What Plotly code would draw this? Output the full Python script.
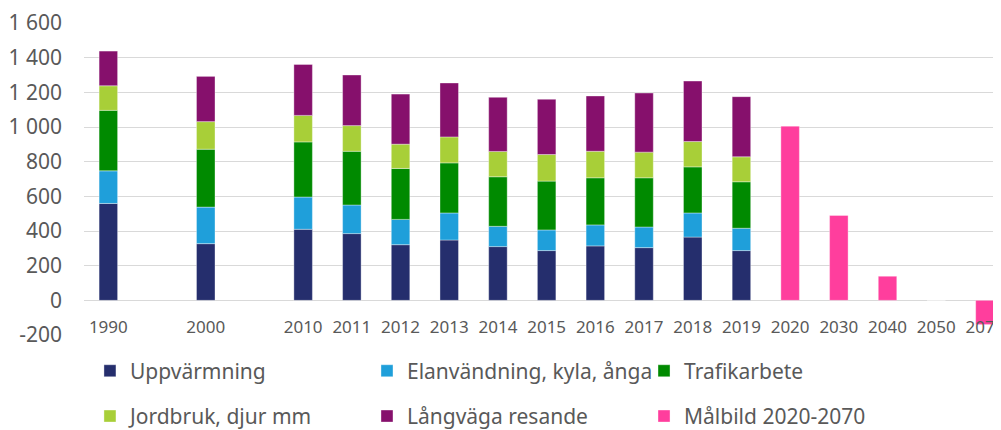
import plotly.graph_objects as go

# categories (blank slots keep the gaps between 1990, 2000 and 2010)
years = ["1990", " ", "2000", "  ", "2010", "2011", "2012", "2013", "2014", "2015",
         "2016", "2017", "2018", "2019", "2020", "2030", "2040", "2050", "2070"]

uppvarmning = [559, None, 327, None, 410, 385, 321, 348, 310, 287, 314, 304, 365, 287,
               None, None, None, None, None]
elanvandning = [188, None, 211, None, 186, 165, 146, 156, 117, 119, 121, 119, 139, 129,
                None, None, None, None, None]
trafikarbete = [349, None, 334, None, 318, 310, 294, 289, 286, 282, 272, 284, 266, 268,
                None, None, None, None, None]
jordbruk = [142, None, 159, None, 153, 148, 140, 150, 146, 153, 153, 148, 146, 144,
            None, None, None, None, None]
langvaga = [200, None, 261, None, 294, 292, 289, 311, 312, 319, 319, 341, 349, 347,
            None, None, None, None, None]
malbild = [None] * 14 + [1005, 490, 139, 0, -140]

# name, values, colour, legend column
series = [
    ("Uppvärmning", uppvarmning, "#252E6D", "legend"),
    ("Elanvändning, kyla, ånga", elanvandning, "#1F9FDA", "legend2"),
    ("Trafikarbete", trafikarbete, "#008A00", "legend3"),
    ("Jordbruk, djur mm", jordbruk, "#A8CF38", "legend"),
    ("Långväga resande", langvaga, "#86106C", "legend2"),
    ("Målbild 2020-2070", malbild, "#FF3E9D", "legend3"),
]

y_ticks = [-200, 0, 200, 400, 600, 800, 1000, 1200, 1400, 1600]
y_ticktext = ["-200", "0", "200", "400", "600", "800", "1 000", "1 200", "1 400", "1 600"]

font_family = "Noto Sans"
grey = "#595959"

fig = go.Figure()
for name, vals, col, leg in series:
    fig.add_trace(go.Bar(
        x=years, y=vals, name=name, legend=leg, legendgroup=name,
        marker=dict(color=col, line=dict(color="rgba(255,255,255,0.45)", width=0.8)),
    ))

# the page body has an 8px margin, so everything is shifted up/left by 8px here
legend_style = dict(
    orientation="v",
    y=-0.05, yanchor="top", xanchor="left",
    font=dict(size=21, color=grey),
    tracegroupgap=15,
    itemclick=False,
    bgcolor="rgba(0,0,0,0)",
)

fig.update_layout(
    width=1001, height=440,
    barmode="relative",
    bargap=0.62,
    plot_bgcolor="white",
    paper_bgcolor="white",
    margin=dict(l=76, r=8, t=15, b=112.5),
    font=dict(family=font_family, color=grey),
    xaxis=dict(
        type="category",
        range=[-0.5, 18.33],
        anchor="free", position=0.112,
        showgrid=False, zeroline=False, showline=False,
        ticks="", tickfont=dict(size=17, color=grey),
        ticklabelstandoff=15,
        automargin=False,
    ),
    yaxis=dict(
        range=[-200, 1600],
        tickvals=y_ticks, ticktext=y_ticktext,
        showgrid=True, gridcolor="#D9D9D9", gridwidth=1.2,
        zeroline=False, showline=False,
        tickfont=dict(size=21, color=grey),
        ticklabelstandoff=21,
        automargin=False,
    ),
    legend=dict(legend_style, x=0.0065),
    legend2=dict(legend_style, x=0.3086),
    legend3=dict(legend_style, x=0.6107),
    showlegend=True,
)

fig.write_html("out.html")
